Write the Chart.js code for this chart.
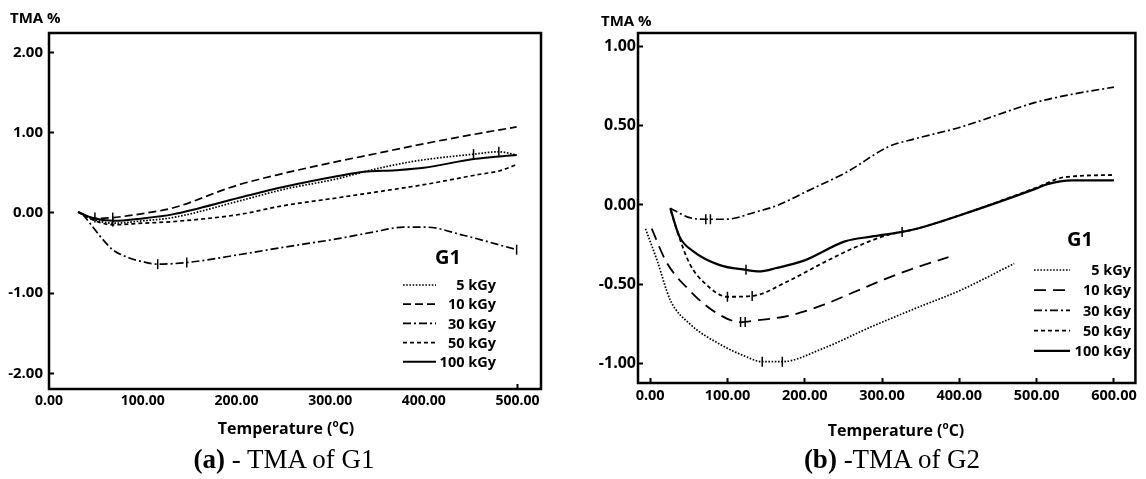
<!DOCTYPE html>
<html>
<head>
<meta charset="utf-8">
<script src="https://cdn.jsdelivr.net/npm/chart.js@4.4.1/dist/chart.umd.min.js"></script>
<style>
  html, body { margin: 0; padding: 0; background: #fff; }
  body { width: 1146px; height: 479px; position: relative; overflow: hidden; font-family: "Open Sans", sans-serif; color: #000; }
  .wrap { position: absolute; top: 0; }
  .txt { position: absolute; white-space: nowrap; }
  .ylab { font-weight: 700; font-size: 15px; }
  .xlab { font-weight: 700; font-size: 16px; transform: translateX(-50%); }
  .xlab sup { font-size: 10px; vertical-align: 7px; line-height: 0; }
  .cap { font-family: "Liberation Serif", "Times New Roman", serif; font-size: 27px; transform: translateX(-50%); }
</style>
</head>
<body>
<div class="wrap" style="left:0"><canvas id="chartA" width="560" height="420"></canvas></div>
<div class="wrap" style="left:570px"><canvas id="chartB" width="576" height="420"></canvas></div>

<div class="txt ylab" style="left:10px;top:7px">TMA %</div>
<div class="txt ylab" style="left:601px;top:10px">TMA %</div>
<div class="txt xlab" style="left:286px;top:417px">Temperature (<sup>o</sup>C)</div>
<div class="txt xlab" style="left:896px;top:419px">Temperature (<sup>o</sup>C)</div>
<div class="txt cap" style="left:284px;top:444px"><b>(a)</b> - TMA of G1</div>
<div class="txt cap" style="left:892px;top:444px"><b>(b)</b> -TMA of G2</div>

<script>
const doses = ['5 kGy', '10 kGy', '30 kGy', '50 kGy', '100 kGy'];

// ---- panel (a): G1 ----
const xTicksA = [0, 100, 200, 300, 400, 500];
const yTicksA = [2, 1, 0, -1, -2];

const a5x   = [31, 45, 68, 100, 132, 204, 250, 310, 336, 370, 400, 453, 480, 499];
const a5y   = [0.01, -0.07, -0.13, -0.10, -0.06, 0.15, 0.29, 0.43, 0.51, 0.60, 0.66, 0.73, 0.76, 0.72];
const a10x  = [31, 49, 68, 100, 132, 200, 250, 300, 350, 400, 450, 499];
const a10y  = [0.01, -0.07, -0.06, -0.01, 0.06, 0.34, 0.49, 0.62, 0.74, 0.86, 0.97, 1.07];
const a30x  = [36, 45, 55, 68, 85, 100, 116, 147, 204, 250, 310, 346, 378, 403, 442, 499];
const a30y  = [-0.02, -0.15, -0.30, -0.46, -0.56, -0.61, -0.64, -0.62, -0.52, -0.43, -0.32, -0.24, -0.18, -0.18, -0.28, -0.46];
const a50x  = [31, 45, 68, 100, 132, 204, 246, 310, 350, 400, 460, 480, 499];
const a50y  = [0.01, -0.08, -0.15, -0.13, -0.11, -0.02, 0.08, 0.19, 0.26, 0.35, 0.48, 0.52, 0.60];
const a100x = [31, 45, 68, 100, 132, 204, 250, 310, 336, 370, 400, 453, 499];
const a100y = [0.01, -0.06, -0.10, -0.07, -0.02, 0.19, 0.32, 0.46, 0.51, 0.53, 0.56, 0.67, 0.72];

// small vertical tick marks sitting on the curves
const markAx = [49, 68, 68, 116, 147, 453, 480, 499];
const markAy = [-0.06, -0.06, -0.11, -0.64, -0.62, 0.73, 0.76, -0.46];

// ---- panel (b): G2 ----
const xTicksB = [0, 100, 200, 300, 400, 500, 600];
const yTicksB = [1, 0.5, 0, -0.5, -1];

const b5x   = [-6, 9, 26, 51, 94, 120, 145, 171, 222, 286, 345, 401, 471];
const b5y   = [-0.15, -0.35, -0.60, -0.75, -0.89, -0.95, -0.99, -0.99, -0.91, -0.77, -0.65, -0.54, -0.37];
const b10x  = [2, 21, 51, 85, 117, 136, 179, 222, 264, 303, 341, 386];
const b10y  = [-0.15, -0.36, -0.54, -0.68, -0.74, -0.73, -0.70, -0.635, -0.55, -0.47, -0.40, -0.33];
const b30x  = [26, 51, 72, 98, 136, 166, 200, 255, 309, 340, 400, 500, 546, 600];
const b30y  = [-0.02, -0.08, -0.09, -0.09, -0.045, 0.0, 0.08, 0.21, 0.37, 0.415, 0.49, 0.65, 0.70, 0.745];
const b50x  = [27, 34, 51, 72, 100, 132, 179, 222, 264, 307, 345, 400, 500, 535, 600];
const b50y  = [-0.04, -0.15, -0.37, -0.50, -0.58, -0.575, -0.48, -0.37, -0.27, -0.19, -0.15, -0.066, 0.11, 0.175, 0.19];
const b100x = [26, 38, 55, 90, 124, 141, 162, 200, 252, 286, 326, 345, 400, 500, 513, 546, 600];
const b100y = [-0.02, -0.20, -0.29, -0.38, -0.41, -0.42, -0.40, -0.35, -0.23, -0.20, -0.17, -0.15, -0.066, 0.105, 0.13, 0.155, 0.155];

const markBx = [72, 78, 100, 132, 117, 123, 145, 171, 124, 326];
const markBy = [-0.09, -0.09, -0.58, -0.575, -0.74, -0.74, -0.99, -0.99, -0.41, -0.17];

function pts(xs, ys) {
  return xs.map((x, i) => ({ x: x, y: ys[i] }));
}

function curve(label, xs, ys, dash, width) {
  return {
    label: label,
    data: pts(xs, ys),
    borderColor: '#000',
    borderWidth: width,
    borderDash: dash,
    borderCapStyle: 'butt',
    pointRadius: 0,
    cubicInterpolationMode: 'monotone',
    fill: false
  };
}

function marks(xs, ys) {
  return {
    label: 'marks',
    isMarker: true,
    data: pts(xs, ys),
    showLine: false,
    pointStyle: 'line',
    rotation: 90,
    pointRadius: 5,
    borderColor: '#000',
    borderWidth: 1.5
  };
}

// box round the plot area
const framePlugin = {
  id: 'frame',
  afterDraw(chart) {
    const { ctx, chartArea: a } = chart;
    ctx.save();
    ctx.lineWidth = 2.5;
    ctx.strokeStyle = '#000';
    ctx.strokeRect(a.left, a.top, a.right - a.left, a.bottom - a.top);
    ctx.restore();
  }
};

// key drawn inside the plot: line sample on the left, label right aligned
const keyPlugin = {
  id: 'key',
  afterDraw(chart, args, o) {
    const ctx = chart.ctx;
    ctx.save();
    ctx.fillStyle = '#000';
    ctx.strokeStyle = '#000';
    ctx.textBaseline = 'middle';
    ctx.textAlign = 'center';
    ctx.font = 'bold 20px "Open Sans"';
    ctx.fillText(o.title, o.titleX, o.titleY);
    ctx.font = 'bold 14.5px "Open Sans"';
    ctx.textAlign = 'right';
    let row = 0;
    chart.data.datasets.forEach(ds => {
      if (ds.isMarker) return;
      const y = o.top + row * o.gap;
      ctx.beginPath();
      ctx.setLineDash(ds.borderDash || []);
      ctx.lineWidth = ds.borderWidth;
      ctx.moveTo(o.x0, y);
      ctx.lineTo(o.x1, y);
      ctx.stroke();
      ctx.setLineDash([]);
      ctx.fillText(ds.label, o.textX, y + 1);
      row++;
    });
    ctx.restore();
  }
};

function makeOptions(c) {
  return {
    responsive: false,
    animation: false,
    events: [],
    layout: { padding: { top: c.padTop, right: c.padRight, left: 0, bottom: 0 } },
    plugins: {
      legend: { display: false },
      tooltip: { enabled: false },
      key: c.key
    },
    scales: {
      x: {
        type: 'linear',
        min: c.xMin,
        max: c.xMax,
        afterBuildTicks: s => { s.ticks = c.xTicks.map(v => ({ value: v })); },
        afterFit: s => { s.height = c.xAxisH; },
        border: { display: false },
        grid: { drawOnChartArea: false, drawTicks: true, tickLength: -5, tickWidth: 2,
                color: ctx => (c.xTickShown(ctx.tick && ctx.tick.value) ? '#000' : 'rgba(0,0,0,0)') },
        ticks: { padding: 9, color: '#000', maxRotation: 0, autoSkip: false,
                 font: { family: 'Open Sans', weight: 'bold', size: c.xFont },
                 callback: v => v.toFixed(2) }
      },
      y: {
        type: 'linear',
        min: c.yMin,
        max: c.yMax,
        afterBuildTicks: s => { s.ticks = c.yTicks.map(v => ({ value: v })); },
        afterFit: s => { s.width = c.yAxisW; },
        border: { display: false },
        grid: { drawOnChartArea: false, drawTicks: true, tickLength: -5, tickWidth: 2, color: '#000' },
        ticks: { padding: c.yPad, color: '#000', autoSkip: false,
                 font: { family: 'Open Sans', weight: 'bold', size: c.yFont },
                 callback: v => v.toFixed(2) }
      }
    }
  };
}

const dashesA = [[1.6, 1.6], [8, 4], [8, 3, 2, 3], [4, 3], []];
const dashesB = [[1.6, 1.6], [12, 7], [8, 3, 2, 3], [4, 3], []];

new Chart(document.getElementById('chartA'), {
  type: 'line',
  data: {
    datasets: [
      curve(doses[0], a5x, a5y, dashesA[0], 1.7),
      curve(doses[1], a10x, a10y, dashesA[1], 1.7),
      curve(doses[2], a30x, a30y, dashesA[2], 1.7),
      curve(doses[3], a50x, a50y, dashesA[3], 1.7),
      curve(doses[4], a100x, a100y, dashesA[4], 2),
      marks(markAx, markAy)
    ]
  },
  options: makeOptions({
    padTop: 33, padRight: 19, xAxisH: 31, yAxisW: 49, yPad: 11,
    xFont: 14, yFont: 15,
    xMin: 0, xMax: 525, yMin: -2.196, yMax: 2.24,
    xTicks: xTicksA, yTicks: yTicksA,
    xTickShown: v => v === 500,
    key: { title: 'G1', titleX: 448, titleY: 258, top: 285, gap: 19.2, x0: 403, x1: 436, textX: 496 }
  }),
  plugins: [framePlugin, keyPlugin]
});

new Chart(document.getElementById('chartB'), {
  type: 'line',
  data: {
    datasets: [
      curve(doses[0], b5x, b5y, dashesB[0], 1.7),
      curve(doses[1], b10x, b10y, dashesB[1], 1.8),
      curve(doses[2], b30x, b30y, dashesB[2], 1.7),
      curve(doses[3], b50x, b50y, dashesB[3], 1.8),
      curve(doses[4], b100x, b100y, dashesB[4], 2.2),
      marks(markBx, markBy)
    ]
  },
  options: makeOptions({
    padTop: 33, padRight: 5, xAxisH: 37, yAxisW: 68, yPad: 7,
    xFont: 14.5, yFont: 16,
    xMin: -15.7, xMax: 627.8, yMin: -1.125, yMax: 1.087,
    xTicks: xTicksB, yTicks: yTicksB,
    xTickShown: v => true,
    key: { title: 'G1', titleX: 510, titleY: 240, top: 270, gap: 20.2, x0: 464, x1: 500, textX: 561 }
  }),
  plugins: [framePlugin, keyPlugin]
});
</script>
</body>
</html>
